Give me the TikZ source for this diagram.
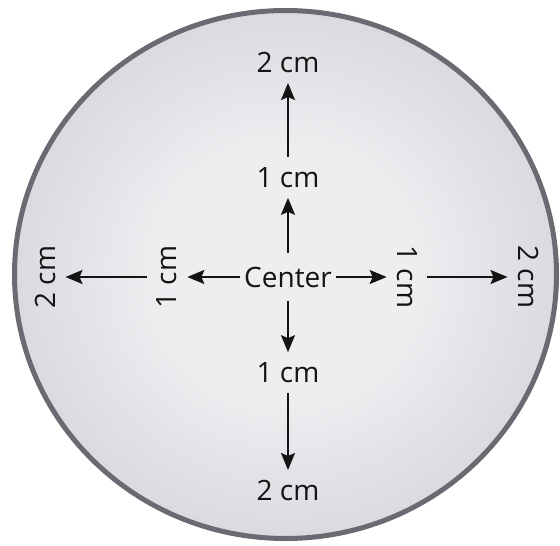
\documentclass[tikz,border=0pt]{standalone}
\usepackage{fontspec}
\setmainfont{Open Sans}
\usetikzlibrary{arrows.meta}
\definecolor{DiscEdge}{RGB}{106,107,114}
\definecolor{DiscIn}{RGB}{238,238,241}
\definecolor{DiscOut}{RGB}{178,179,188}
\definecolor{ArrowInk}{RGB}{20,20,20}
\pgfdeclareradialshading{discshade}{\pgfpoint{0bp}{0bp}}{%
  color(0bp)=(DiscIn); color(12bp)=(DiscIn); color(50bp)=(DiscOut); color(60bp)=(DiscOut)}

\begin{document}
\begin{tikzpicture}[
  x=1pt, y=1pt,
  font=\fontsize{28}{32}\selectfont,
  disc/.style={draw=DiscEdge, line width=5pt, shading=discshade},
  mid/.style={inner xsep=4pt, inner ysep=14pt, text=ArrowInk},
  lbl/.style={inner sep=10pt, text=ArrowInk},
  arrow/.style={-{Stealth[length=17pt, width=14pt, inset=3pt]}, line width=2pt, draw=ArrowInk}
]
\useasboundingbox (0,0) rectangle (560,-546);

% --- DISC ---
\path[disc] (285.5,-274.5) ellipse [x radius=271, y radius=264];

% --- LABELS ---
\node[mid] (center) at (288,-277) {Center};
\node[lbl] (up1) at (288,-177.5) {1 cm};
\node[lbl] (up2) at (288,-62.5) {2 cm};
\node[lbl] (dn1) at (288,-372.5) {1 cm};
\node[lbl] (dn2) at (288,-490.5) {2 cm};
\node[lbl, rotate=90] (lf1) at (167,-277) {1 cm};
\node[lbl, rotate=90] (lf2) at (45,-277) {2 cm};
\node[lbl, rotate=-90] (rt1) at (407,-277) {1 cm};
\node[lbl, rotate=-90] (rt2) at (528,-277) {2 cm};

% --- arrows out from the centre ---
\draw[arrow] (center) -- (up1);
\draw[arrow] (up1) -- (up2);
\draw[arrow] (center) -- (dn1);
\draw[arrow] (dn1) -- (dn2);
\draw[arrow] (center) -- (lf1);
\draw[arrow] (lf1) -- (lf2);
\draw[arrow] (center) -- (rt1);
\draw[arrow] (rt1) -- (rt2);

\end{tikzpicture}
\end{document}
